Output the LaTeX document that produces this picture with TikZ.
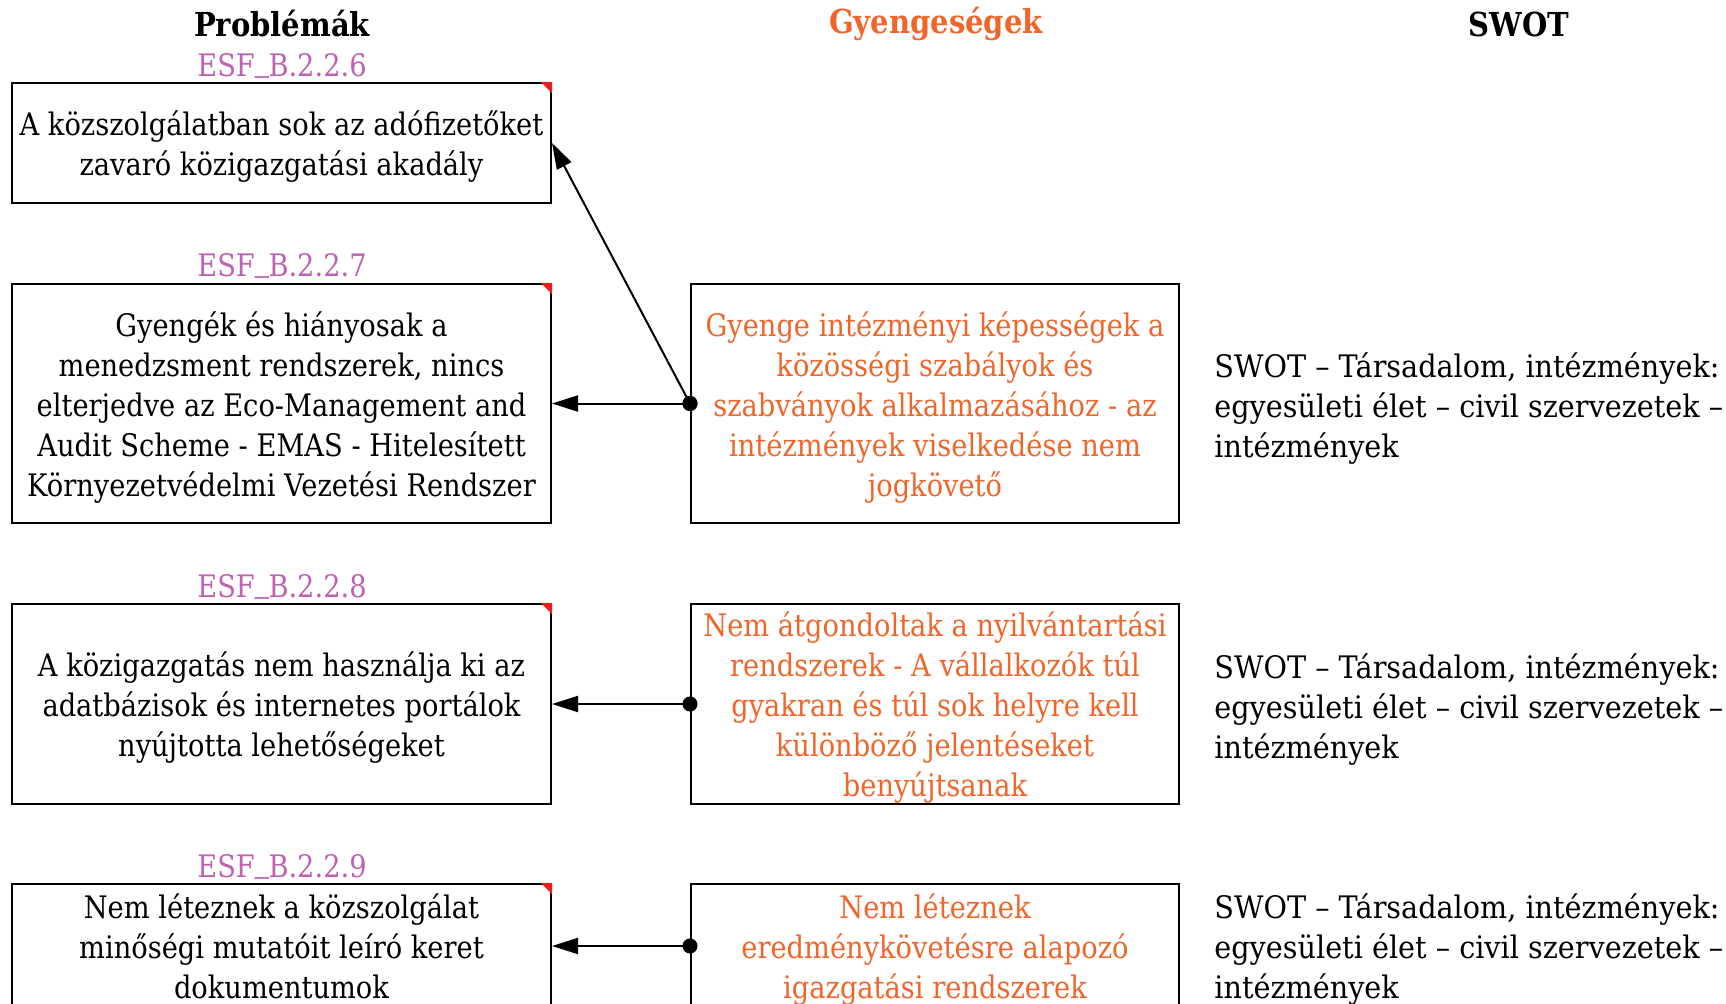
\documentclass[tikz,border=0pt]{standalone}
\usepackage{fontspec}
\setmainfont{DejaVu Serif}[FakeStretch=0.88]
\newfontfamily\swotfont{DejaVu Serif}[FakeStretch=0.925]
\usetikzlibrary{arrows.meta,positioning,calc}
\definecolor{esfpink}{HTML}{C060B0}
\definecolor{weakorange}{HTML}{F0652A}
\definecolor{cornerred}{HTML}{EE1C1C}
\newcommand{\topstrut}{\rule{0pt}{16pt}}
\newcommand{\botstrut}{\rule[-3.7pt]{0pt}{3.7pt}}
\newcommand{\esfsep}{\raisebox{3pt}{\addfontfeature{FakeBold=1.5}\_}}

\begin{document}
\begin{tikzpicture}[
    x=0.5pt, y=-0.5pt,
    txt/.style={font=\fontsize{15.5}{20}\selectfont, inner sep=0pt},
    probbox/.style={txt, rectangle, draw, line width=1pt, align=center,
        minimum width=269.5pt},
    weakbox/.style={txt, rectangle, draw, line width=1pt, align=center,
        minimum width=244pt, text=weakorange},
    swottext/.style={txt, font=\fontsize{15.5}{20}\selectfont\swotfont,
        anchor=west, align=left},
    esflabel/.style={txt, text=esfpink},
    header/.style={txt, font=\fontsize{16.5}{20}\selectfont\bfseries},
    link/.style={{Circle[length=7.5pt]}-{Triangle[length=13pt,width=8pt]},
        shorten <=-3.75pt, line width=1pt},
]
\useasboundingbox (0,0) rectangle (1726,1003);
\clip (0,0) rectangle (1726,1003);

% Column headers
\node[header] (hprob) at (282,24) {Problémák};
\node[header, text=weakorange] (hweak) at (936,24) {Gyengeségek};
\node[header] (hswot) at (1519,24) {SWOT};

% Left column: problems
\node[esflabel] (esf6) at (282,61) {\topstrut ESF\esfsep B.2.2.6};
\node[probbox, minimum height=60pt] (prob6) at (281.5,143)
    {\topstrut A közszolgálatban sok az adófizetőket\\
     zavaró közigazgatási akadály};

\node[esflabel] (esf7) at (282,261) {\topstrut ESF\esfsep B.2.2.7};
\node[probbox, minimum height=119.5pt] (prob7) at (281.5,403.5)
    {\topstrut Gyengék és hiányosak a\\
     menedzsment rendszerek, nincs\\
     elterjedve az Eco-Management and\\
     Audit Scheme - EMAS - Hitelesített\\
     Környezetvédelmi Vezetési Rendszer};

\node[esflabel] (esf8) at (282,582) {\topstrut ESF\esfsep B.2.2.8};
\node[probbox, minimum height=100pt] (prob8) at (281.5,704)
    {\topstrut A közigazgatás nem használja ki az\\
     adatbázisok és internetes portálok\\
     nyújtotta lehetőségeket};

\node[esflabel] (esf9) at (282,862) {\topstrut ESF\esfsep B.2.2.9};
\node[probbox, minimum height=62pt] (prob9) at (281.5,946)
    {\topstrut Nem léteznek a közszolgálat\\
     minőségi mutatóit leíró keret\\
     dokumentumok\botstrut};

% Red corner marks
\foreach \b in {prob6,prob7,prob8,prob9}
    \fill[cornerred] (\b.north east) -- ++(-11,0) -- ++(11,11) -- cycle;

% Middle column: weaknesses
\node[weakbox, minimum height=119.5pt] (weak1) at (935,403.5)
    {\topstrut Gyenge intézményi képességek a\\
     közösségi szabályok és\\
     szabványok alkalmazásához - az\\
     intézmények viselkedése nem\\
     jogkövető};

\node[weakbox, minimum height=100pt] (weak2) at (935,704)
    {\topstrut Nem átgondoltak a nyilvántartási\\
     rendszerek - A vállalkozók túl\\
     gyakran és túl sok helyre kell\\
     különböző jelentéseket\\
     benyújtsanak};

\node[weakbox, minimum height=62pt] (weak3) at (935,946)
    {\topstrut Nem léteznek\\
     eredménykövetésre alapozó\\
     igazgatási rendszerek};

% Right column: SWOT
\node[swottext] (swot1) at (1214,405)
    {\topstrut SWOT – Társadalom, intézmények:\\
     egyesületi élet – civil szervezetek –\\
     intézmények};
\node[swottext] (swot2) at (1214,706)
    {\topstrut SWOT – Társadalom, intézmények:\\
     egyesületi élet – civil szervezetek –\\
     intézmények};
\node[swottext] (swot3) at (1214,946)
    {\topstrut SWOT – Társadalom, intézmények:\\
     egyesületi élet – civil szervezetek –\\
     intézmények};

% Links
\draw[link] (weak1.west) -- (prob6.east);
\draw[link] (weak1.west) -- (prob7.east);
\draw[link] (weak2.west) -- (prob8.east);
\draw[link] (weak3.west) -- (prob9.east);

\end{tikzpicture}
\end{document}
